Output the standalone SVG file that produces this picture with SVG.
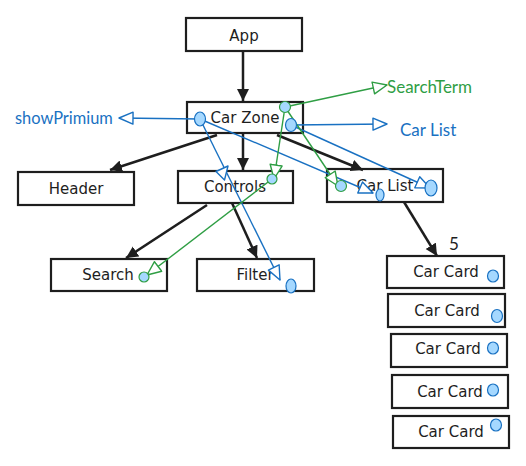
<svg xmlns="http://www.w3.org/2000/svg" width="526" height="466" viewBox="0 0 526 466">
<defs>
<marker id="ab" markerUnits="userSpaceOnUse" markerWidth="14" markerHeight="14" refX="12" refY="6" orient="auto"><path d="M0,0 L12,6 L0,12 z" fill="#1e1e1e"/></marker>
<marker id="tb" markerUnits="userSpaceOnUse" markerWidth="18" markerHeight="16" refX="15" refY="7" orient="auto"><path d="M1,1 L15,7 L1,13 z" fill="#fff" stroke="#1971c2" stroke-width="1.4" stroke-linejoin="round"/></marker>
<marker id="tg" markerUnits="userSpaceOnUse" markerWidth="18" markerHeight="16" refX="15" refY="7" orient="auto"><path d="M1,1 L15,7 L1,13 z" fill="#fff" stroke="#2f9e44" stroke-width="1.4" stroke-linejoin="round"/></marker>
<style>
.box{fill:none;stroke:#1e1e1e;stroke-width:2.2}
.t{font-family:"DejaVu Sans",sans-serif;font-size:15px;fill:#1e1e1e;text-anchor:middle}
.lb{font-family:Lato,"Liberation Sans",sans-serif;font-size:17px}
.blk{stroke:#1e1e1e;stroke-width:2.5;fill:none;marker-end:url(#ab)}
.bl{stroke:#1971c2;stroke-width:1.4;fill:none}
.gr{stroke:#2f9e44;stroke-width:1.4;fill:none}
.db{fill:#a5d8ff;stroke:#1971c2;stroke-width:1.2}
.dg{fill:#a5d8ff;stroke:#2f9e44;stroke-width:1.2}
</style>
</defs>
<g id="app"><rect class="box" x="186" y="18" width="116" height="33"/><text class="t" x="244" y="41">App</text></g>
<g id="carzone"><rect class="box" x="187" y="102" width="116" height="31"/><text class="t" x="245" y="123">Car Zone</text></g>
<g id="header"><rect class="box" x="18" y="172" width="116" height="33"/><text class="t" x="76" y="194">Header</text></g>
<g id="controls"><rect class="box" x="178" y="171" width="115" height="32"/><text class="t" x="235" y="192">Controls</text></g>
<g id="carlist"><rect class="box" x="327" y="169" width="116" height="33"/><text class="t" x="385" y="191">Car List</text></g>
<g id="search"><rect class="box" x="51" y="259" width="116" height="32"/><text class="t" x="108" y="280">Search</text></g>
<g id="filter"><rect class="box" x="197" y="259" width="117" height="32"/><text class="t" x="255" y="280">Filter</text></g>
<g id="card1"><rect class="box" x="387" y="256" width="117" height="32"/><text class="t" x="446" y="277">Car Card</text></g>
<g id="card2"><rect class="box" x="388" y="294" width="117" height="33"/><text class="t" x="447" y="316">Car Card</text></g>
<g id="card3"><rect class="box" x="391" y="334" width="116" height="33"/><text class="t" x="448" y="354">Car Card</text></g>
<g id="card4"><rect class="box" x="392" y="375" width="116" height="33"/><text class="t" x="450" y="397">Car Card</text></g>
<g id="card5"><rect class="box" x="393" y="416" width="116" height="32"/><text class="t" x="451" y="437">Car Card</text></g>
<g id="connectors">
<line class="blk" x1="243" y1="51" x2="243" y2="101"/>
<line class="blk" x1="217" y1="135" x2="110" y2="170"/>
<line class="blk" x1="243" y1="133" x2="243" y2="170"/>
<line class="blk" x1="277" y1="135" x2="363" y2="170"/>
<line class="blk" x1="207" y1="205" x2="126" y2="258"/>
<line class="blk" x1="232" y1="203" x2="257" y2="258"/>
<line class="blk" x1="404" y1="202" x2="437" y2="256"/>
<line class="bl" x1="200" y1="119" x2="119" y2="118" marker-end="url(#tb)"/>
<line class="bl" x1="291" y1="125" x2="387" y2="124" marker-end="url(#tb)"/>
<line class="bl" x1="200" y1="119" x2="280" y2="280" marker-end="url(#tb)"/>
<polygon points="216,171.5 228,166 224.5,180" fill="#fff" stroke="#1971c2" stroke-width="1.4" stroke-linejoin="round"/>
<line class="bl" x1="200" y1="119" x2="373" y2="193" marker-end="url(#tb)"/>
<line class="bl" x1="291" y1="125" x2="430" y2="188" marker-end="url(#tb)"/>
<line class="gr" x1="285" y1="107" x2="387" y2="85" marker-end="url(#tg)"/>
<line class="gr" x1="285" y1="107" x2="274" y2="179" marker-end="url(#tg)"/>
<line class="gr" x1="285" y1="107" x2="338" y2="186" marker-end="url(#tg)"/>
<line class="gr" x1="272" y1="179" x2="147" y2="275" marker-end="url(#tg)"/>
</g>
<g id="dots">
<ellipse class="db" cx="200" cy="119" rx="5.5" ry="7"/>
<circle class="dg" cx="285" cy="107" r="5.5"/>
<ellipse class="db" cx="291" cy="125" rx="5.5" ry="6.5"/>
<circle class="dg" cx="272" cy="179" r="5"/>
<circle class="dg" cx="144" cy="277" r="5"/>
<ellipse class="db" cx="291" cy="286" rx="5" ry="7"/>
<circle class="dg" cx="341" cy="186" r="5.5"/>
<ellipse class="db" cx="380" cy="195" rx="4" ry="6"/>
<ellipse class="db" cx="431" cy="188" rx="6" ry="8"/>
<ellipse class="db" cx="493" cy="276" rx="5.5" ry="6"/>
<ellipse class="db" cx="497" cy="316" rx="5.5" ry="6.5"/>
<ellipse class="db" cx="493" cy="348" rx="5.5" ry="6"/>
<ellipse class="db" cx="493" cy="390" rx="5.5" ry="6"/>
<ellipse class="db" cx="496" cy="425" rx="5.5" ry="6"/>
</g>
<g id="labels">
<text class="lb" x="15" y="124" fill="#1971c2" style="font-size:16.4px">showPrimium</text>
<text class="lb" x="387" y="93" fill="#2f9e44">SearchTerm</text>
<text class="lb" x="400" y="136" fill="#1971c2">Car List</text>
<text class="lb" x="454" y="250" fill="#1e1e1e" text-anchor="middle">5</text>
</g>
</svg>
